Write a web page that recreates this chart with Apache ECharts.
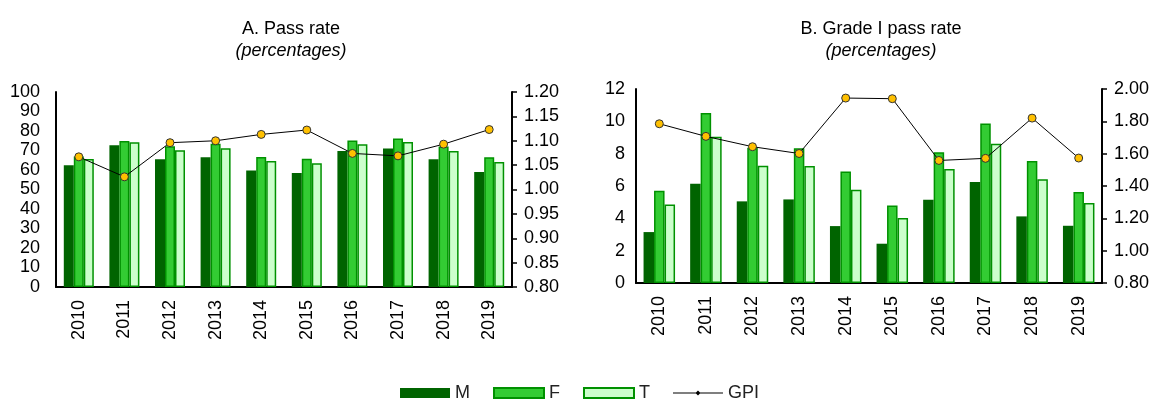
<!DOCTYPE html>
<html lang="en">
<head>
  <meta charset="UTF-8">
  <title>Pass rate / Grade I pass rate</title>
  <style>
    * { box-sizing: border-box; margin:0; padding:0; }
    body { background: #fff; }
    #chart { width: 1159px; height: 401px; }
  </style>
  <script src="https://cdn.jsdelivr.net/npm/echarts@6/dist/echarts.min.js"></script>
</head>
<body>
  <div id="chart"></div>

  <script>
    // data
    const years = ['2010','2011','2012','2013','2014','2015','2016','2017','2018','2019'];

    // A. Pass rate (%)
    const passM   = [62.4, 72.7, 65.5, 66.5, 59.8, 58.5, 69.7, 71.0, 65.5, 59.0];
    const passF   = [66.9, 74.9, 72.2, 73.5, 66.7, 65.8, 75.1, 76.1, 72.0, 66.5];
    const passT   = [65.7, 74.2, 70.1, 71.1, 64.6, 63.4, 73.2, 74.4, 69.8, 64.1];
    const passGPI = [1.067, 1.026, 1.096, 1.100, 1.113, 1.122, 1.074, 1.069, 1.093, 1.123];

    // B. Grade I pass rate (%)
    const gradeM   = [3.15, 6.14, 5.05, 5.17, 3.52, 2.43, 5.15, 6.25, 4.12, 3.54];
    const gradeF   = [5.71, 10.51, 8.37, 8.33, 6.90, 4.80, 8.08, 9.87, 7.54, 5.63];
    const gradeT   = [4.86, 9.05, 7.25, 7.24, 5.77, 4.02, 7.05, 8.62, 6.41, 4.95];
    const gradeGPI = [1.785, 1.707, 1.643, 1.601, 1.944, 1.940, 1.558, 1.571, 1.820, 1.573];

    const FONT = "'Liberation Sans', Arial, sans-serif";
    const txt = { color: '#000', fontSize: 18, fontFamily: FONT };
    const axisLine = { show: true, lineStyle: { color: '#000', width: 2 } };

    const styleM = { color: '#006400' };
    const styleF = { color: '#33cc33', borderColor: '#009100', borderWidth: 1.5 };
    const styleT = { color: '#ccffcc', borderColor: '#009100', borderWidth: 1.5 };

    // legend glyph for GPI: thin line with a small diamond in the middle
    const gpiIcon = 'path://M0,4.5L50,4.5L50,5.5L0,5.5Z M25,2.5L27.5,5L25,7.5L22.5,5Z';

    function xAxis(grid) {
      return {
        type: 'category', gridIndex: grid, data: years,
        axisLine: axisLine, axisTick: { show: false },
        axisLabel: Object.assign({ rotate: 90, interval: 0, margin: 13 }, txt)
      };
    }
    function valAxis(grid, pos, min, max, step, digits, margin, ticks) {
      return {
        type: 'value', gridIndex: grid, position: pos,
        min: min, max: max, interval: step,
        splitLine: { show: false },
        axisLine: axisLine,
        axisTick: { show: ticks, length: 5, lineStyle: { color: '#000', width: 1.5 } },
        axisLabel: Object.assign({
          margin: margin,
          formatter: v => v.toFixed(digits)
        }, txt)
      };
    }
    function bar(name, data, grid, style, w) {
      return {
        name: name, type: 'bar', data: data,
        xAxisIndex: grid, yAxisIndex: grid * 2,
        barWidth: w, barGap: '0%', itemStyle: style
      };
    }
    function gpi(data, grid) {
      return {
        name: 'GPI', type: 'line', data: data, z: 5,
        xAxisIndex: grid, yAxisIndex: grid * 2 + 1,
        symbol: 'circle', symbolSize: 8,
        lineStyle: { color: '#000', width: 1 },
        itemStyle: { color: '#ffc000', borderColor: '#333', borderWidth: 1 }
      };
    }

    const chart = echarts.init(document.getElementById('chart'));
    chart.setOption({
      animation: false,
      title: [
        { text: 'A. Pass rate', left: 286, top: 15, textAlign: 'center',
          textStyle: { color: '#000', fontSize: 18, fontWeight: 'normal', fontFamily: FONT } },
        { text: '(percentages)', left: 286, top: 37, textAlign: 'center',
          textStyle: { color: '#000', fontSize: 18, fontWeight: 'normal', fontStyle: 'italic', fontFamily: FONT } },
        { text: 'B. Grade I pass rate', left: 876, top: 15, textAlign: 'center',
          textStyle: { color: '#000', fontSize: 18, fontWeight: 'normal', fontFamily: FONT } },
        { text: '(percentages)', left: 876, top: 37, textAlign: 'center',
          textStyle: { color: '#000', fontSize: 18, fontWeight: 'normal', fontStyle: 'italic', fontFamily: FONT } }
      ],
      legend: {
        data: [
          { name: 'M', icon: 'rect' },
          { name: 'F', icon: 'rect' },
          { name: 'T', icon: 'rect' },
          { name: 'GPI', icon: gpiIcon, itemStyle: { color: '#000', borderWidth: 0 } }
        ],
        left: 'center', top: 379,
        itemWidth: 50, itemHeight: 10, itemGap: 23,
        textStyle: { color: '#222', fontSize: 18, fontFamily: FONT }
      },
      grid: [
        { left: 56, right: 647, top: 92, bottom: 114 },
        { left: 636, right: 57, top: 89, bottom: 118 }
      ],
      xAxis: [xAxis(0), xAxis(1)],
      yAxis: [
        valAxis(0, 'left', 0, 100, 10, 0, 16, false),
        valAxis(0, 'right', 0.8, 1.2, 0.05, 2, 12, true),
        valAxis(1, 'left', 0, 12, 2, 0, 11, false),
        valAxis(1, 'right', 0.8, 2.0, 0.2, 2, 12, true)
      ],
      series: [
        bar('M', passM, 0, styleM, 10),
        bar('F', passF, 0, styleF, 10),
        bar('T', passT, 0, styleT, 10),
        gpi(passGPI, 0),
        bar('M', gradeM, 1, styleM, 10.5),
        bar('F', gradeF, 1, styleF, 10.5),
        bar('T', gradeT, 1, styleT, 10.5),
        gpi(gradeGPI, 1)
      ]
    });
  </script>
</body>
</html>
